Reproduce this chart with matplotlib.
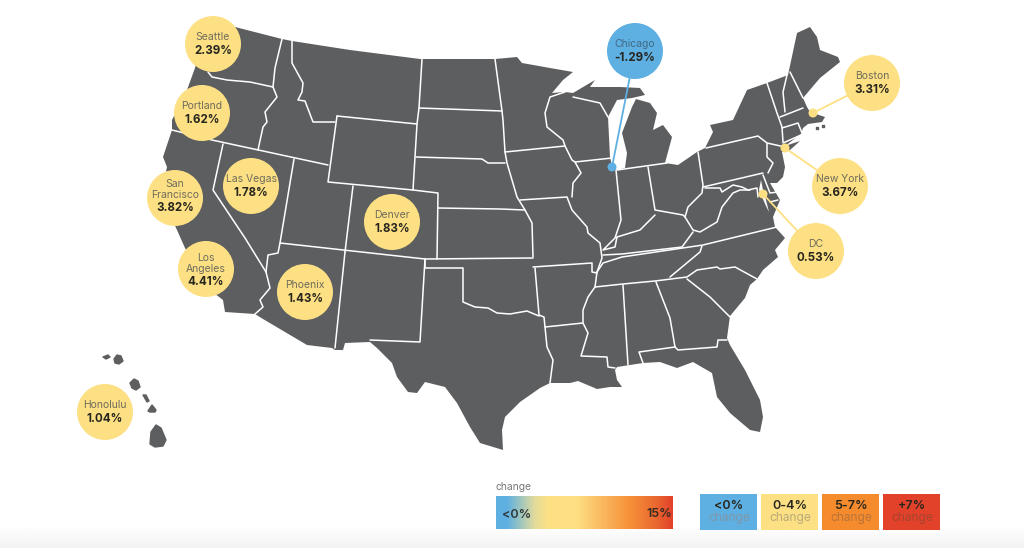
# -*- coding: utf-8 -*-
import numpy as np
import matplotlib
matplotlib.use('Agg')
import matplotlib.pyplot as plt
from matplotlib.colors import LinearSegmentedColormap
from matplotlib.patches import Circle, Polygon, Rectangle

# 도시별 변화율
cities = ['Seattle', 'Portland', 'San\nFrancisco', 'Las Vegas', 'Los\nAngeles', 'Phoenix',
          'Denver', 'Chicago', 'Boston', 'New York', 'DC', 'Honolulu']
changes = [2.39, 1.62, 3.82, 1.78, 4.41, 1.43, 1.83, -1.29, 3.31, 3.67, 0.53, 1.04]

legend_ranges = ['<0%', '0-4%', '5-7%', '+7%']
scale_labels = ['<0%', '15%']

# 화면 좌표 (픽셀)
centers = [(213, 44), (202, 113), (175, 198), (251, 186), (206, 269), (305, 292),
           (392, 222), (635, 51), (872, 83), (840, 186), (816, 251), (105, 412)]
anchors = {'Chicago': (612, 167), 'Boston': (813, 113), 'New York': (785, 148), 'DC': (763, 194)}

# 본토 윤곽선
land = [(235, 27), (282, 39), (292, 41), (350, 50), (420, 59), (495, 59), (517, 57), (522, 63),
        (550, 68), (573, 72), (563, 80), (552, 93), (565, 92), (573, 93), (595, 80), (590, 87),
        (620, 87), (640, 88), (645, 95), (632, 98), (617, 100), (608, 117), (610, 157), (612, 166),
        (617, 170), (625, 168), (627, 153), (622, 133), (632, 107), (636, 99), (650, 103), (657, 113),
        (653, 130), (663, 125), (672, 137), (665, 163), (678, 165), (697, 152), (705, 148), (713, 132),
        (710, 125), (733, 120), (747, 90), (767, 83), (788, 75), (797, 33), (810, 27), (817, 37),
        (820, 50), (838, 57), (840, 62), (820, 78), (803, 98), (807, 107), (810, 112), (825, 117),
        (822, 122), (808, 124), (803, 128), (801, 134), (785, 146), (800, 141), (790, 150), (782, 152),
        (785, 167), (783, 177), (777, 183), (770, 183), (780, 200), (773, 217), (775, 227), (785, 238),
        (775, 250), (778, 257), (763, 270), (757, 279), (750, 285), (745, 298), (730, 316), (727, 338),
        (730, 345), (745, 370), (760, 400), (763, 417), (760, 432), (750, 430), (730, 413), (717, 397),
        (712, 373), (693, 362), (677, 368), (660, 362), (643, 363), (617, 367), (615, 370), (617, 380),
        (622, 387), (610, 387), (597, 389), (578, 381), (570, 383), (550, 383), (540, 388), (520, 402),
        (505, 417), (502, 430), (503, 450), (480, 443), (470, 427), (457, 403), (445, 387), (425, 382),
        (417, 393), (408, 392), (397, 377), (392, 363), (377, 348), (370, 342), (345, 343), (343, 350),
        (335, 350), (332, 348), (307, 345), (263, 319), (255, 314), (225, 312), (223, 300), (210, 290),
        (185, 248), (177, 230), (170, 215), (163, 185), (167, 167), (163, 157), (172, 130), (172, 120),
        (187, 90), (195, 68), (200, 50), (205, 25)]

# 하와이 섬
islands = [[(103, 357), (108, 355), (110, 357), (106, 359)],
           [(114, 359), (117, 355), (121, 356), (123, 361), (119, 364), (115, 363)],
           [(130, 383), (134, 379), (138, 381), (140, 387), (136, 390), (132, 388)],
           [(143, 395), (146, 395), (149, 401), (147, 402)],
           [(148, 411), (152, 405), (156, 410), (155, 412), (150, 412)],
           [(150, 444), (151, 432), (156, 425), (161, 428), (166, 440), (163, 446), (155, 447)],
           [(816, 127), (818, 127), (818, 129), (816, 129)],
           [(822, 125), (824, 125), (824, 127), (822, 127)]]

# 주 경계선
borders = [
    [(208, 72), (212, 77), (227, 80), (250, 82), (273, 87)],
    [(282, 39), (275, 68), (273, 87), (277, 97), (265, 112), (267, 122), (263, 127), (258, 150)],
    [(292, 41), (292, 63), (303, 83), (302, 92), (298, 100), (305, 101), (313, 122), (335, 122)],
    [(337, 116), (417, 124)],
    [(337, 116), (328, 182), (413, 190), (438, 193), (437, 259)],
    [(172, 130), (212, 140), (328, 165)],
    [(422, 59), (419, 108), (417, 124), (413, 190)],
    [(419, 108), (502, 111)],
    [(416, 157), (482, 159), (488, 163), (505, 163)],
    [(495, 59), (502, 111), (503, 120), (505, 152), (507, 163), (517, 197), (525, 210), (532, 223), (533, 257)],
    [(505, 152), (565, 146)],
    [(565, 92), (550, 97), (545, 113), (547, 127), (563, 140), (565, 146), (572, 160), (575, 162), (612, 158)],
    [(575, 162), (581, 173), (573, 183), (572, 197)],
    [(520, 200), (567, 197), (572, 210), (587, 227), (588, 233), (600, 243), (602, 258), (597, 272)],
    [(438, 208), (500, 209), (525, 210)],
    [(425, 259), (533, 258)],
    [(533, 267), (592, 263), (592, 272), (597, 273)],
    [(616, 170), (621, 220), (615, 238), (603, 250), (615, 247), (617, 237), (640, 230), (655, 215)],
    [(617, 170), (667, 163)],
    [(648, 167), (655, 210), (683, 215), (685, 217), (688, 207), (702, 193), (703, 185), (698, 152)],
    [(685, 217), (693, 230), (700, 232), (717, 222), (722, 207), (733, 193), (740, 190), (750, 190)],
    [(703, 187), (763, 173)],
    [(705, 188), (720, 188), (722, 192), (733, 185), (742, 187), (748, 190), (757, 188), (758, 197)],
    [(706, 148), (758, 136), (767, 143), (767, 157), (773, 163), (768, 173)],
    [(763, 175), (770, 193), (778, 192)],
    [(770, 202), (778, 200)],
    [(767, 83), (777, 113), (782, 127), (783, 142)],
    [(767, 143), (785, 147)],
    [(787, 75), (783, 92), (785, 112)],
    [(790, 72), (803, 98)],
    [(780, 117), (803, 108)],
    [(782, 128), (798, 123), (802, 133)],
    [(777, 227), (703, 245), (622, 257), (603, 263), (597, 272), (595, 287)],
    [(603, 255), (622, 254), (682, 247), (693, 232)],
    [(702, 246), (700, 252), (670, 277)],
    [(595, 287), (623, 284), (655, 281), (687, 277), (697, 270), (717, 267), (720, 269), (735, 267), (757, 279)],
    [(687, 279), (710, 297), (730, 317)],
    [(656, 282), (670, 318), (675, 347), (678, 350), (717, 347), (718, 340), (727, 340)],
    [(675, 347), (639, 352), (643, 363)],
    [(623, 285), (628, 365)],
    [(595, 287), (588, 297), (583, 310), (583, 323), (588, 333), (581, 356), (607, 357), (608, 367), (615, 368)],
    [(545, 327), (583, 323)],
    [(535, 268), (539, 315), (544, 317), (545, 327), (547, 347), (553, 360), (550, 383)],
    [(425, 259), (425, 268), (463, 268), (463, 302), (475, 307), (488, 308), (497, 313), (510, 314), (527, 311), (539, 316)],
    [(425, 259), (420, 342), (370, 340)],
    [(345, 252), (335, 348)],
    [(280, 243), (425, 259)],
    [(353, 186), (345, 252)],
    [(294, 159), (280, 243), (278, 253), (268, 255), (266, 272), (270, 288), (260, 300), (263, 307), (255, 314)],
    [(223, 144), (213, 190), (245, 238), (266, 272)],
    [(573, 97), (600, 103), (608, 117)],
    [(783, 143), (801, 135)],
]
# 체서피크 만
bay = [(761, 180), (759, 190), (766, 206), (769, 212), (766, 200), (763, 190)]

map_color = '#5d5e60'
yellow = '#fee084'
blue = '#5eb0e2'

plt.rcParams['font.family'] = ['Inter', 'DejaVu Sans']

fig = plt.figure(figsize=(10.24, 5.48), dpi=100)
ax = fig.add_axes([0, 0, 1, 1])
ax.set_xlim(0, 1024)
ax.set_ylim(548, 0)
ax.axis('off')

# 하단 옅은 그라데이션
shade = np.linspace(1, 0.95, 30).reshape(-1, 1)
ax.imshow(shade, extent=(0, 1024, 548, 525), cmap='gray', vmin=0, vmax=1, aspect='auto', zorder=0)

ax.add_patch(Polygon(land, closed=True, fc=map_color, ec='none', zorder=1))
for isl in islands:
    ax.add_patch(Polygon(isl, closed=True, fc=map_color, ec=map_color, lw=1, joinstyle='round', zorder=1))
for line in borders:
    xs, ys = zip(*line)
    ax.plot(xs, ys, color='white', lw=1.1, solid_joinstyle='round', solid_capstyle='round', zorder=2)
ax.add_patch(Polygon(bay, closed=True, fc='white', ec='none', zorder=2))

# 도시 버블
for city, val, (cx, cy) in zip(cities, changes, centers):
    col = blue if val < 0 else yellow
    if city in anchors:
        px, py = anchors[city]
        ax.plot([cx, px], [cy, py], color=col, lw=1.3, zorder=3)
        ax.add_patch(Circle((px, py), 4.5, fc=col, ec='none', zorder=3))
    ax.add_patch(Circle((cx, cy), 28, fc=col, ec='none', zorder=4))
    extra = city.count('\n')
    nudge = -3 if city.startswith('San') else 0
    name_col = '#3f6a84' if val < 0 else '#6e6c5c'
    ax.text(cx, cy - 6.8 + extra + nudge, city, ha='center', va='center', fontsize=7.5, color=name_col,
            linespacing=1.12, zorder=5)
    ax.text(cx, cy + 6.8 + extra * 6.5 + nudge, f'{val:.2f}%', ha='center', va='center', fontsize=8.3,
            fontweight='bold', color='#26261f', zorder=5)

# 색상 스케일
cmap = LinearSegmentedColormap.from_list('chg', [(0, blue), (0.06, blue), (0.22, '#e3dc9a'), (0.3, yellow),
                                                 (0.45, yellow), (0.75, '#f7923a'), (0.9, '#ea6a30'),
                                                 (1, '#e2412a')])
ax.imshow(np.linspace(0, 1, 256).reshape(1, -1), extent=(496, 673, 529, 496), cmap=cmap, aspect='auto', zorder=1)
ax.set_xlim(0, 1024)
ax.set_ylim(548, 0)
ax.text(496, 486.5, 'change', ha='left', va='center', fontsize=7.4, color='#77777a')
ax.text(517, 515, scale_labels[0], ha='center', va='center', fontsize=9, fontweight='semibold', color='#33383a', zorder=5)
ax.text(659, 514, scale_labels[1], ha='center', va='center', fontsize=9, fontweight='semibold', color='#3a2a20', zorder=5)

# 범례 박스
box_x = [700, 761, 822, 883]
box_cols = [blue, yellow, '#f68b2e', '#e2412a']
sub_cols = ['#7f97a8', '#b7ab78', '#b87438', '#a8442f']
for label, x0, bc, sc in zip(legend_ranges, box_x, box_cols, sub_cols):
    ax.add_patch(Rectangle((x0, 494), 57, 36, fc=bc, ec='none', zorder=1))
    ax.text(x0 + 29, 506, label, ha='center', va='center', fontsize=9, fontweight='semibold', color='#26261f', zorder=5)
    ax.text(x0 + 29, 518, 'change', ha='center', va='center', fontsize=8.6, color=sc, zorder=5)

fig.savefig('out.png', dpi=100)
